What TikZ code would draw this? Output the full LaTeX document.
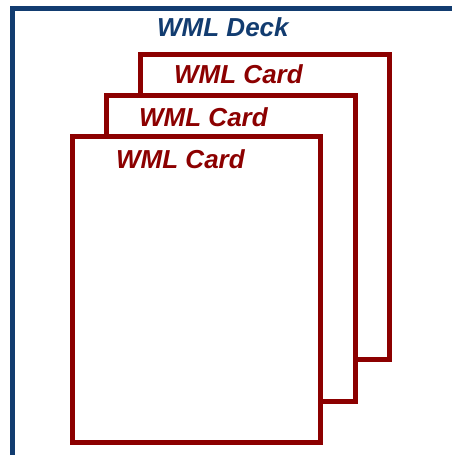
\documentclass[tikz,border=0pt]{standalone}
\usepackage{fontspec}
\setmainfont{Liberation Sans}
\definecolor{deckblue}{RGB}{18,60,112}
\definecolor{cardred}{RGB}{140,0,0}
\begin{document}
\begin{tikzpicture}[x=1pt,y=-1pt,
  deckframe/.style={draw=deckblue,line width=5pt},
  cardframe/.style={draw=cardred,line width=5pt,fill=white},
  lbl/.style={font=\fontsize{26}{30}\selectfont\bfseries\itshape,inner sep=0pt,anchor=base west}]
\useasboundingbox (0,0) rectangle (452,455);
\clip (0,0) rectangle (452,455);
\fill[white] (0,0) rectangle (452,455);
\draw[deckframe] (12.5,8.5) rectangle (470,475);
\node[lbl,text=deckblue] (decklbl) at (157,36) {WML Deck};
\draw[cardframe] (140.5,54.5) rectangle (389.5,359.5);
\node[lbl,text=cardred] (card3) at (174,83) {WML Card};
\draw[cardframe] (106.5,95.5) rectangle (355.5,401);
\node[lbl,text=cardred] (card2) at (139,126) {WML Card};
\draw[cardframe] (72.5,136.5) rectangle (320.5,442.5);
\node[lbl,text=cardred] (card1) at (116,168) {WML Card};
\end{tikzpicture}
\end{document}
